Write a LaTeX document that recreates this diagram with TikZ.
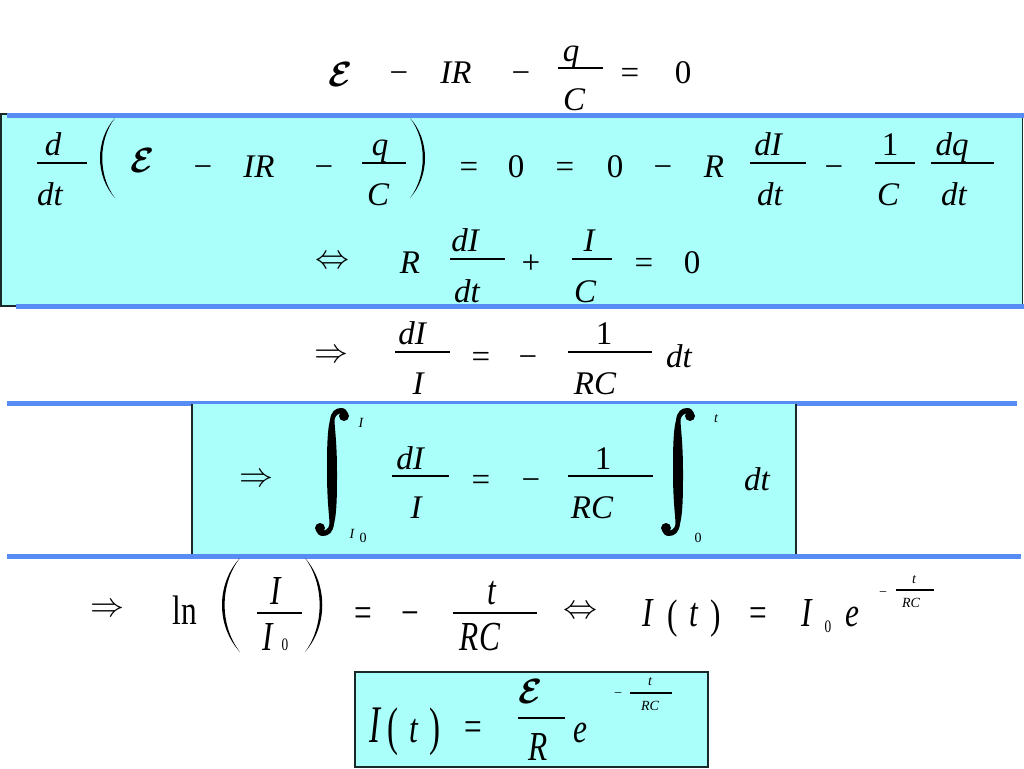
\documentclass[tikz,border=0pt]{standalone}
\usepackage{amsmath}
\usepackage{fontspec}
\setmainfont{Liberation Serif}
\definecolor{boxc}{RGB}{170,255,250}
\definecolor{lineb}{RGB}{88,140,245}
\definecolor{edge}{RGB}{25,40,40}
\newcounter{nn}
\newcommand\tx[4][mi]{\stepcounter{nn}\node[#1] (n\arabic{nn}) at (#2,#3) {#4};}
\newcommand\scE{\scalebox{3.5}{$\boldsymbol{\mathcal{E}}$}}
\newcommand\Rar{\scalebox{3.4}{$\Rightarrow$}}
\newcommand\LRar{\scalebox{3.4}{$\Leftrightarrow$}}
\newcommand\vs[1]{\scalebox{0.95}[1.25]{#1}}
\newcommand\vb[1]{\scalebox{1}[1.6]{#1}}
\newcommand\bigint[2]{\begin{scope}[shift={(#1,#2)}]
\fill (5,0) .. controls (5,-30) and (2.5,-45) .. (2.5,-52) .. controls (3,-57) and (7,-59) .. (11,-59) .. controls (14,-60) .. (16,-57) .. controls (15,-62) and (13,-64) .. (9,-64) .. controls (3,-64) and (-1,-60) .. (-2,-52) .. controls (-5,-40) and (-5,-20) .. (-5,0) .. controls (-5,30) and (-2.5,45) .. (-2.5,52) .. controls (-3,57) and (-7,59) .. (-11,59) .. controls (-14,60) .. (-16,57) .. controls (-15,62) and (-13,64) .. (-9,64) .. controls (-3,64) and (1,60) .. (2,52) .. controls (5,40) and (5,20) .. (5,0) -- cycle;
\fill (12,-56) circle (5pt);
\fill (-12,56) circle (5pt);
\end{scope}}
\tikzset{
 mi/.style={font=\fontsize{33}{33}\selectfont\itshape, inner sep=0pt, anchor=base},
 mu/.style={font=\fontsize{33}{33}\selectfont, inner sep=0pt, anchor=base},
 si/.style={font=\fontsize{14}{14}\selectfont\itshape, inner sep=0pt, anchor=base},
 su/.style={font=\fontsize{14}{14}\selectfont, inner sep=0pt, anchor=base},
 ac/.style={inner sep=0pt, anchor=center},
 fb/.style={line width=2.8pt},
 sb/.style={line width=1.8pt},
 bl/.style={draw=lineb, line width=5pt},
 edg/.style={draw=edge, line width=1.5pt},
}
\begin{document}
\begin{tikzpicture}[x=1pt,y=-1pt]
\fill[white] (0,0) rectangle (1024,768);
\useasboundingbox (0,0) rectangle (1024,768);
% boxes and rules
\fill[boxc] (0,114) rectangle (1023,306);
\draw[edg] (7,114) -- (0.75,114) -- (0.75,306) -- (16,306);
\draw[edg] (1022.5,116) -- (1022.5,305);
\draw[bl] (7,115) -- (1024,115);
\draw[bl] (16,306.5) -- (1024,306.5);
\draw[bl] (7,403.5) -- (1017,403.5);
\fill[boxc] (192,404) rectangle (796,555);
\draw[edg] (192,404) -- (192,555);
\draw[edg] (796,404) -- (796,555);
\draw[bl] (7,556) -- (1021,556);
\draw[edg,fill=boxc] (355,672) rectangle (708,767);
% row 0
\tx[ac]{341}{74}{\scE}
\tx[mu]{399}{83}{−}
\tx{456}{83}{IR}
\tx[mu]{521}{83}{−}
\tx{571}{61}{q}
\draw[fb] (558,68) -- (603,68);
\tx{574}{110}{C}
\tx[mu]{630}{83}{=}
\tx[mu]{683}{83}{0}
% row 1
\tx{53}{155}{d}
\draw[fb] (37,163) -- (87,163);
\tx{50}{205}{dt}
\fill (115,118) .. controls (95,140) and (95,176) .. (115,198) .. controls (98,176) and (98,140) .. (115,118) -- cycle;
\tx[ac]{143}{160}{\scE}
\tx[mu]{203}{177}{−}
\tx{259}{177}{IR}
\tx[mu]{324}{177}{−}
\tx{380}{155}{q}
\draw[fb] (362,163) -- (406,163);
\tx{378}{205}{C}
\fill (410,118) .. controls (430,140) and (430,176) .. (410,198) .. controls (427,176) and (427,140) .. (410,118) -- cycle;
\tx[mu]{469}{177}{=}
\tx[mu]{516}{177}{0}
\tx[mu]{565}{177}{=}
\tx[mu]{615}{177}{0}
\tx[mu]{663}{177}{−}
\tx{714}{177}{R}
\tx{768}{155}{dI}
\draw[fb] (750,163) -- (806,163);
\tx{770}{205}{dt}
\tx[mu]{834}{177}{−}
\tx[mu]{890}{155}{1}
\draw[fb] (875,163) -- (915,163);
\tx{888}{205}{C}
\tx{952}{155}{dq}
\draw[fb] (931,163) -- (994,163);
\tx{954}{205}{dt}
% row 2
\tx[ac]{332}{262}{\LRar}
\tx{410}{273}{R}
\tx{465}{251}{dI}
\draw[fb] (450,259) -- (505,259);
\tx{467}{302}{dt}
\tx[mu]{531}{273}{+}
\tx{589}{251}{I}
\draw[fb] (572,259) -- (612,259);
\tx{585}{302}{C}
\tx[mu]{644}{273}{=}
\tx[mu]{692}{273}{0}
% row 3
\tx[ac]{331}{356}{\Rar}
\tx{412}{344}{dI}
\draw[fb] (395,352) -- (450,352);
\tx{418}{394}{I}
\tx[mu]{481}{367}{=}
\tx[mu]{528}{367}{−}
\tx[mu]{604}{344}{1}
\draw[fb] (568,352) -- (652,352);
\tx{595}{394}{RC}
\tx{679}{367}{dt}
% row 4
\tx[ac]{256}{480}{\Rar}
\bigint{332}{472}
\tx[si]{361}{427}{I}
\tx[si]{352}{538}{I}
\tx[su]{363}{542}{0}
\tx{410}{469}{dI}
\draw[fb] (392,476) -- (449,476);
\tx{416}{518}{I}
\tx[mu]{481}{490}{=}
\tx[mu]{531}{490}{−}
\tx[mu]{603}{469}{1}
\draw[fb] (568,476) -- (653,476);
\tx{592}{518}{RC}
\bigint{678}{472}
\tx[si]{716}{422}{t}
\tx[su]{698}{542}{0}
\tx{757}{490}{dt}
% row 5
\tx[ac]{107}{610}{\Rar}
\tx[mu]{185}{624}{\vs{ln}}
\fill (240,558) .. controls (216,584) and (216,626) .. (240,652) .. controls (219.5,626) and (219.5,584) .. (240,558) -- cycle;
\tx{276}{604}{\vs{I}}
\draw[fb] (257,613) -- (302,613);
\tx{268}{650}{\vs{I}}
\tx[su]{285}{650}{\vs{0}}
\fill (305,558) .. controls (328,584) and (328,626) .. (305,652) .. controls (324.5,626) and (324.5,584) .. (305,558) -- cycle;
\tx[mu]{363}{626}{\vs{=}}
\tx[mu]{410}{626}{\vs{−}}
\tx{492}{604}{\vs{t}}
\draw[fb] (453,613) -- (537,613);
\tx{480}{650}{\vs{RC}}
\tx[ac]{580}{612}{\LRar}
\tx{648}{626}{\vs{I}}
\tx[mu]{673}{628}{\vs{(}}
\tx{694}{626}{\vs{t}}
\tx[mu]{716}{628}{\vs{)}}
\tx[mu]{758}{626}{\vs{=}}
\tx{807}{626}{\vs{I}}
\tx[su]{828}{632}{\vs{0}}
\tx{852}{626}{\vs{e}}
\tx[su]{883}{596}{−}
\tx[si]{914}{583}{t}
\draw[sb] (896,590) -- (934,590);
\tx[si]{911}{607}{RC}
% row 6
\tx{375}{742}{\vb{I}}
\tx[mu]{393}{744}{\vb{(}}
\tx{414}{742}{\vs{t}}
\tx[mu]{435}{744}{\vb{)}}
\tx[mu]{473}{740}{\vs{=}}
\tx[ac]{531}{691}{\scE}
\draw[fb] (518,718) -- (565,718);
\tx{538}{760}{\vs{R}}
\tx{580}{742}{\vs{e}}
\tx[su]{618}{697}{−}
\tx[si]{650}{685}{t}
\draw[sb] (630,693) -- (672,693);
\tx[si]{650}{710}{RC}
\end{tikzpicture}
\end{document}
